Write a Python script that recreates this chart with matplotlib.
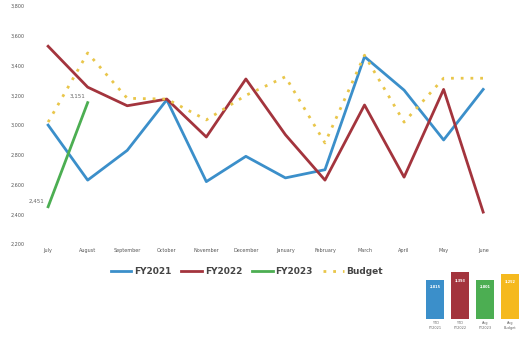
import numpy as np
import matplotlib.pyplot as plt

months = ["July", "August", "September", "October", "November", "December",
          "January", "February", "March", "April", "May", "June"]
fy2021 = [3000, 2630, 2830, 3170, 2620, 2790, 2645, 2700, 3460, 3235, 2900, 3240]
fy2022 = [3530, 3255, 3130, 3175, 2920, 3310, 2935, 2630, 3135, 2650, 3240, 2415]
fy2023 = [2451, 3151]
budget = [3020, 3485, 3180, 3175, 3035, 3200, 3325, 2880, 3470, 3020, 3315, 3315]
yticks = [2200, 2400, 2600, 2800, 3000, 3200, 3400, 3600, 3800]

bar_labels = ["YTD\nFY2021", "YTD\nFY2022", "Avg\nFY2023", "Avg\nBudget"]
bar_values = [2815, 3393, 2801, 3252]

c_blue = "#3b8fca"
c_red = "#a3343d"
c_green = "#4cae52"
c_gold = "#e9c64a"

fig = plt.figure(figsize=(5.25, 3.39), dpi=100)
ax = fig.add_axes([0.054, 0.28, 0.904, 0.702])
x = np.arange(len(months))

ax.plot(x, fy2021, color=c_blue, lw=2, label="FY2021")
ax.plot(x, fy2022, color=c_red, lw=2, label="FY2022")
ax.plot(x[:len(fy2023)], fy2023, color=c_green, lw=2, label="FY2023")
ax.plot(x, budget, color=c_gold, lw=2, ls=(0, (1, 2.5)), label="Budget")

ax.text(x[0] - 0.1, fy2023[0] + 30, "{:,}".format(fy2023[0]), fontsize=4, color="#666666", ha="right")
ax.text(x[1] - 0.05, fy2023[1] + 30, "{:,}".format(fy2023[1]), fontsize=4, color="#666666", ha="right")

ax.set_xlim(-0.5, 11.5)
ax.set_ylim(2200, 3800)
ax.set_yticks(yticks)
ax.set_yticklabels(["{:,}".format(v) for v in yticks], fontsize=3.5, color="#555555")
ax.set_xticks(x)
ax.set_xticklabels(months, fontsize=3.5, color="#555555")
ax.tick_params(length=0, pad=3)
for s in ax.spines.values():
    s.set_visible(False)

fig.legend(loc="center", bbox_to_anchor=(0.47, 0.200), ncol=4, frameon=False,
           handlelength=2.3, columnspacing=1.1, handletextpad=0.3, labelcolor="#444444",
           prop={"weight": "bold", "size": 6.5})

# small summary bars
bx = fig.add_axes([0.805, 0.06, 0.19, 0.145])
bcolors = [c_blue, c_red, c_green, "#f5b91e"]
bars = bx.bar(np.arange(4), bar_values, color=bcolors, width=0.7)
for b, v in zip(bars, bar_values):
    bx.text(b.get_x() + b.get_width() / 2, v * 0.82, "{:,}".format(v),
            ha="center", va="center", fontsize=2.5, color="white", weight="bold")
bx.set_ylim(0, 3600)
bx.set_xlim(-0.5, 3.5)
bx.set_xticks(np.arange(4))
bx.set_xticklabels(bar_labels, fontsize=2.5, color="#666666")
bx.set_yticks([])
bx.tick_params(length=0, pad=2)
for s in bx.spines.values():
    s.set_visible(False)

fig.savefig("out.png", dpi=100)
